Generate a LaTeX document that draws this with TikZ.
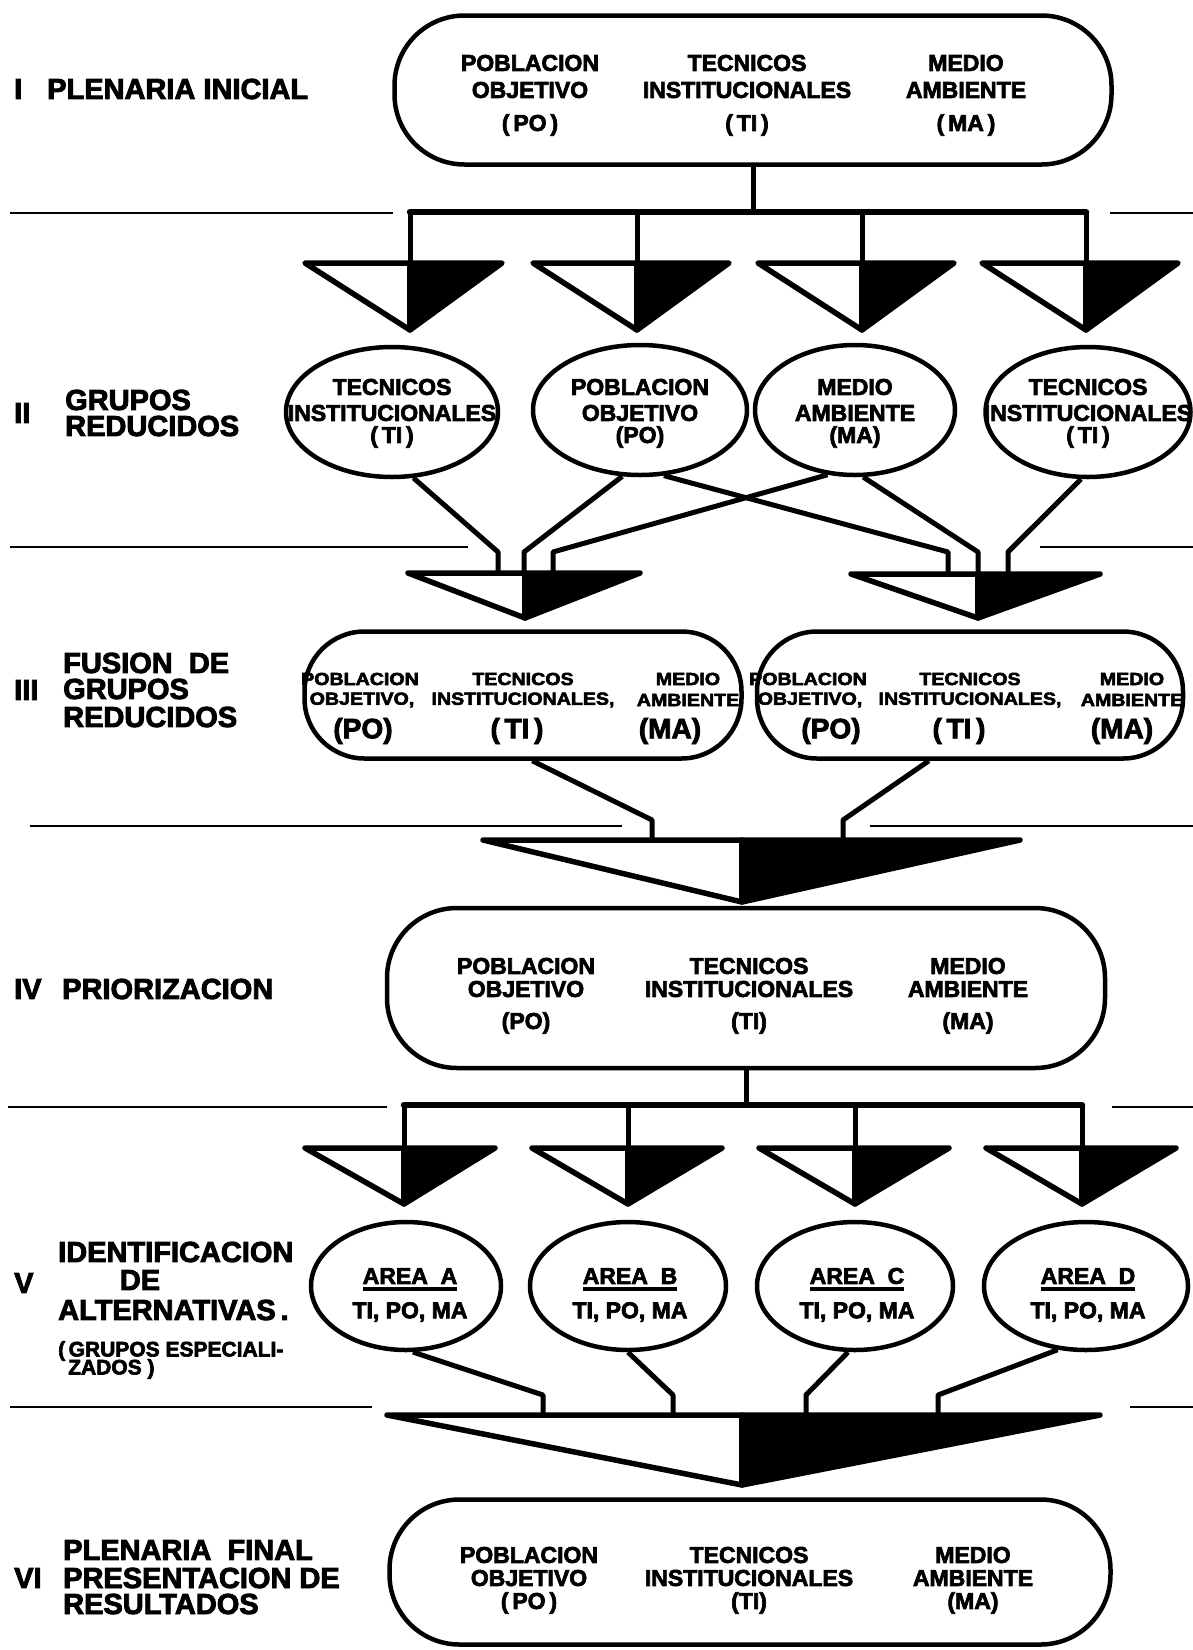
\documentclass[tikz,border=0pt]{standalone}
\usepackage{fontspec}
\usepackage{graphicx}
\setmainfont{Liberation Sans}[BoldFeatures={FakeBold=3}]
\usetikzlibrary{shapes.geometric}
\newcommand\splittri[5]{%
  \fill (#2,#4) -- (#3,#4) -- (#2,#5) -- cycle;
  \draw[triline] (#1,#4) -- (#3,#4) -- (#2,#5) -- cycle;
  \draw[triline] (#2,#4) -- (#2,#5);
}
\newcommand\colthree[8]{%
  \node[txt] (#1a) at (#2,#3) {#6};
  \node[txt] (#1b) at (#2,#4) {#7};
  \node[txt] (#1c) at (#2,#5) {#8};
}
\newcommand\wide[1]{\scalebox{1.12}[1]{#1}}
\begin{document}
\begin{tikzpicture}[x=1pt,y=-1pt,
  sepline/.style={line width=2.6pt},
  wire/.style={line width=5pt,line join=round},
  barline/.style={line width=6.5pt,line cap=round},
  triline/.style={line width=5.5pt,line join=round,line cap=round},
  stad/.style={draw,line width=4.5pt,rectangle,rounded corners=70pt,inner sep=0pt},
  oval/.style={draw,ellipse,line width=4.5pt,inner sep=0pt,minimum height=130pt},
  txt/.style={font=\bfseries\fontsize{23}{25}\selectfont,inner sep=0pt},
  small/.style={font=\bfseries\fontsize{17.5}{19}\selectfont,inner sep=0pt},
  big/.style={font=\bfseries\fontsize{28}{30}\selectfont,inner sep=0pt},
  lab/.style={font=\bfseries\fontsize{29}{31}\selectfont,inner sep=0pt,anchor=west},
  labsmall/.style={font=\bfseries\fontsize{21}{23}\selectfont,inner sep=0pt,anchor=west}]
\useasboundingbox (0,0) rectangle (1193,1650);
\fill[white] (0,0) rectangle (1193,1650);

% separators
\draw[sepline] (10,213) -- (393,213);  \draw[sepline] (1110,213) -- (1193,213);
\draw[sepline] (10,547) -- (468,547);  \draw[sepline] (1040,547) -- (1193,547);
\draw[sepline] (30,826) -- (622,826);  \draw[sepline] (870,826) -- (1193,826);
\draw[sepline] (8,1107) -- (387,1107); \draw[sepline] (1112,1107) -- (1193,1107);
\draw[sepline] (10,1407) -- (372,1407); \draw[sepline] (1130,1407) -- (1193,1407);

% ---------- I
\node[lab] (l1a) at (14,89) {I};
\node[lab] (l1b) at (47,89) {PLENARIA INICIAL};
\node[stad,minimum width=717pt,minimum height=149pt] (s1) at (753,90) {};
\colthree{p1}{530}{63}{90}{125}{POBLACION}{OBJETIVO}{(\,PO\,)}
\colthree{t1}{747}{63}{90}{125}{TECNICOS}{INSTITUCIONALES}{(\,TI\,)}
\colthree{m1}{966}{63}{90}{125}{MEDIO}{AMBIENTE}{(\,MA\,)}
\draw[wire] (s1.south) -- ++(0,47) coordinate (j1);
\coordinate (d11) at (410,212); \coordinate (d12) at (637,212);
\coordinate (d13) at (862,212); \coordinate (d14) at (1086,212);
\draw[barline] (d11) -- (d14);
\foreach \d in {d11,d12,d13,d14} \draw[wire] (\d) -- ++(0,53);
\splittri{305}{410}{502}{263}{330}
\splittri{533}{637}{729}{263}{330}
\splittri{758}{862}{954}{263}{330}
\splittri{982}{1086}{1178}{263}{330}

% ---------- II
\node[lab] (l2a) at (14,413) {II};
\node[lab] (l2b) at (65,400) {GRUPOS};
\node[lab] (l2c) at (65,426) {REDUCIDOS};
\node[oval,minimum width=212pt] (o21) at (392,412) {};
\node[oval,minimum width=214pt] (o22) at (640,410) {};
\node[oval,minimum width=200pt] (o23) at (855,410) {};
\node[oval,minimum width=205pt] (o24) at (1088,412) {};
\colthree{a2}{392}{387}{413}{437}{TECNICOS}{INSTITUCIONALES}{(\,TI\,)}
\colthree{b2}{640}{387}{413}{437}{POBLACION}{OBJETIVO}{(PO)}
\colthree{c2}{855}{387}{413}{437}{MEDIO}{AMBIENTE}{(MA)}
\colthree{e2}{1088}{387}{413}{437}{TECNICOS}{INSTITUCIONALES}{(\,TI\,)}
\coordinate (k1) at (498,552); \coordinate (k2) at (524,552); \coordinate (k3) at (553,552);
\coordinate (k4) at (948,552); \coordinate (k5) at (978,552); \coordinate (k6) at (1008,552);
\draw[wire] (o21.-72) -- (k1) -- ++(0,21);
\draw[wire] (o22.-105) -- (k2) -- ++(0,21);
\draw[wire] (o23.-113) -- (k3) -- ++(0,21);
\draw[wire] (o22.-70) -- (k4) -- ++(0,22);
\draw[wire] (o23.-83) -- (k5) -- ++(0,22);
\draw[wire] (o24.-96) -- (k6) -- ++(0,22);
\splittri{408}{525}{640}{573}{618}
\splittri{851}{978}{1100}{574}{618}

% ---------- III
\node[lab] (l3a) at (14,690) {III};
\node[lab] (l3b) at (63,663) {FUSION\ \ DE};
\node[lab] (l3c) at (63,689) {GRUPOS};
\node[lab] (l3d) at (63,717) {REDUCIDOS};
\node[stad,rounded corners=60pt,minimum width=437pt,minimum height=127pt] (o31) at (523,695) {};
\node[stad,rounded corners=60pt,minimum width=426pt,minimum height=127pt] (o32) at (970,695) {};
\node[small] (f1a) at (360,679) {\wide{POBLACION}};
\node[small] (f1b) at (362,700) {\wide{OBJETIVO,}};
\node[small] (f1c) at (523,679) {\wide{TECNICOS}};
\node[small] (f1d) at (523,700) {\wide{INSTITUCIONALES,}};
\node[small] (f1e) at (688,679) {\wide{MEDIO}};
\node[small] (f1f) at (688,700) {\wide{AMBIENTE}};
\node[big] (f1g) at (363,731) {(PO)};
\node[big] (f1h) at (517,731) {(\,TI\,)};
\node[big] (f1i) at (670,731) {(MA)};
\node[small] (f2a) at (808,679) {\wide{POBLACION}};
\node[small] (f2b) at (810,700) {\wide{OBJETIVO,}};
\node[small] (f2c) at (970,679) {\wide{TECNICOS}};
\node[small] (f2d) at (970,700) {\wide{INSTITUCIONALES,}};
\node[small] (f2e) at (1132,679) {\wide{MEDIO}};
\node[small] (f2f) at (1132,700) {\wide{AMBIENTE}};
\node[big] (f2g) at (831,731) {(PO)};
\node[big] (f2h) at (959,731) {(\,TI\,)};
\node[big] (f2i) at (1122,731) {(MA)};
\coordinate (k7) at (652,820); \coordinate (k8) at (843,820);
\draw[wire] (o31.-82) -- (k7) -- ++(0,20);
\draw[wire] (o32.-122) -- (k8) -- ++(0,20);
\splittri{483}{742}{1020}{840}{902}

% ---------- IV
\node[lab] (l4a) at (14,989) {IV};
\node[lab] (l4b) at (62,989) {PRIORIZACION};
\node[stad,minimum width=718pt,minimum height=160pt] (s4) at (746,988) {};
\colthree{p4}{526}{966}{989}{1023}{POBLACION}{OBJETIVO}{(PO)}
\colthree{t4}{749}{966}{989}{1023}{TECNICOS}{INSTITUCIONALES}{(TI)}
\colthree{m4}{968}{966}{989}{1023}{MEDIO}{AMBIENTE}{(MA)}
\draw[wire] (s4.south) -- ++(0,37) coordinate (j4);
\coordinate (d41) at (404,1105); \coordinate (d42) at (628,1105);
\coordinate (d43) at (855,1105); \coordinate (d44) at (1082,1105);
\draw[barline] (d41) -- (d44);
\foreach \d in {d41,d42,d43,d44} \draw[wire] (\d) -- ++(0,43);
\splittri{305}{404}{495}{1148}{1204}
\splittri{532}{628}{722}{1148}{1204}
\splittri{759}{855}{949}{1148}{1204}
\splittri{986}{1082}{1176}{1148}{1204}

% ---------- V
\node[lab] (l5a) at (14,1283) {V};
\node[lab] (l5b) at (58,1252) {IDENTIFICACION};
\node[lab,anchor=center] (l5c) at (140,1280) {DE};
\node[lab] (l5d) at (58,1310) {ALTERNATIVAS\,.};
\node[labsmall] (l5e) at (58,1351) {(\,GRUPOS ESPECIALI-};
\node[labsmall] (l5f) at (68,1369) {ZADOS )};
\node[oval,minimum width=190pt,minimum height=128pt] (o51) at (406,1286) {};
\node[oval,minimum width=196pt,minimum height=128pt] (o52) at (628,1286) {};
\node[oval,minimum width=196pt,minimum height=128pt] (o53) at (855,1286) {};
\node[oval,minimum width=204pt,minimum height=128pt] (o54) at (1086,1286) {};
\foreach \n/\x/\L in {A/410/A,B/630/B,C/857/C,D/1088/D}{
  \node[txt] (ar\n) at (\x,1276) {AREA\ \ \L};
  \draw[line width=3.8pt] ([yshift=-5pt]ar\n.south west) -- ([yshift=-5pt]ar\n.south east);
  \node[txt] (tp\n) at (\x,1312) {TI, PO, MA};
}
\coordinate (k9) at (543,1395); \coordinate (k10) at (673,1395);
\coordinate (k11) at (806,1395); \coordinate (k12) at (938,1395);
\draw[wire] (o51.-84) -- (k9) -- ++(0,20);
\draw[wire] (o52.-90) -- (k10) -- ++(0,20);
\draw[wire] (o53.-96) -- (k11) -- ++(0,20);
\draw[wire] (o54.-114) -- (k12) -- ++(0,20);
\splittri{387}{742}{1100}{1415}{1485}

% ---------- VI
\node[lab] (l6a) at (14,1578) {VI};
\node[lab] (l6b) at (63,1550) {PLENARIA\ \ FINAL};
\node[lab] (l6c) at (63,1578) {PRESENTACION DE};
\node[lab] (l6d) at (63,1604) {RESULTADOS};
\node[stad,minimum width=721pt,minimum height=145pt] (s6) at (750,1572) {};
\colthree{p6}{529}{1555}{1578}{1603}{POBLACION}{OBJETIVO}{(\,PO\,)}
\colthree{t6}{749}{1555}{1578}{1603}{TECNICOS}{INSTITUCIONALES}{(TI)}
\colthree{m6}{973}{1555}{1578}{1603}{MEDIO}{AMBIENTE}{(MA)}
\end{tikzpicture}
\end{document}
